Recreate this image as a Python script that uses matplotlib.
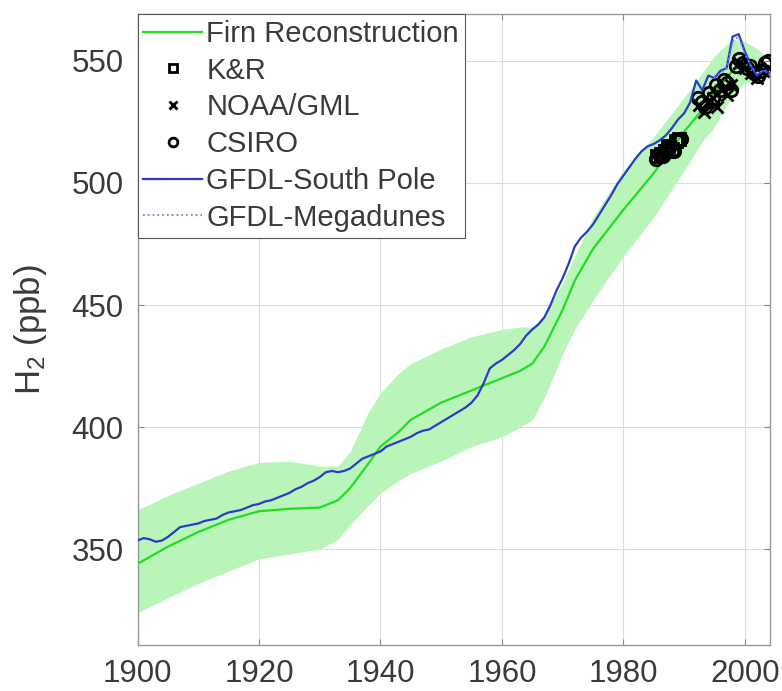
import numpy as np
import matplotlib
matplotlib.use("Agg")
import matplotlib.pyplot as plt

# firn reconstruction (green line) and its uncertainty band
firn_years = [1900, 1905, 1910, 1915, 1920, 1925, 1930, 1933, 1935, 1938, 1940, 1943, 1945,
              1950, 1955, 1960, 1963, 1965, 1967, 1970, 1972, 1975, 1980, 1985, 1990, 1993,
              1995, 1998, 2000, 2002, 2003]
firn_h2 = [344, 351, 357, 362, 365.5, 366.5, 367, 370, 375, 385, 392, 398, 403,
           410, 415, 420, 423, 426, 433, 448, 460, 473, 489, 504, 521, 530,
           537, 546, 549, 547, 548]
firn_hi = [366, 372, 377, 382, 385.5, 386, 384, 384, 390, 406, 414, 422, 426,
           432, 437, 440, 441, 441, 446, 459, 470, 486, 505, 519, 535, 545,
           552, 559, 558, 555, 553]
firn_lo = [324, 330, 336, 341, 346, 348, 350, 354, 360, 368, 373, 378, 381,
           386, 392, 396, 400, 403, 412, 430, 440, 452, 470, 486, 505, 517,
           523, 536, 541, 542, 542]

# GFDL South Pole model (yearly)
sp_years = list(range(1900, 2005))
sp_h2 = [353.5, 354.5, 354, 353, 353.5, 355, 357, 359, 359.5, 360,
         360.5, 361.5, 362, 362.5, 364, 365, 365.5, 366, 367, 368,
         368.5, 369.5, 370, 371, 372, 373, 374.5, 375.5, 377, 378,
         379.5, 381.5, 382, 381.5, 382, 383, 385, 387, 388, 389,
         390, 392, 393, 394, 395, 396, 397.5, 398.5, 399, 400.5,
         402, 403.5, 405, 406.5, 408, 410, 413, 418, 424, 426,
         427.5, 429.5, 431.5, 434, 437.5, 440, 442, 445, 450, 456,
         461, 467, 474, 477.5, 480, 483, 487, 491, 495, 499.5,
         503, 506.5, 510, 513, 515, 516, 517.5, 519.5, 522.5, 526,
         528.5, 533, 542, 538, 544, 543, 546, 547, 560, 561,
         554, 548, 544, 546, 545]

# GFDL Megadunes model
md_years = [1995, 1996, 1997, 1998, 1999, 2000, 2001, 2002, 2003, 2004]
md_h2 = [543, 545, 547, 558, 560, 553, 548, 545, 546, 546]

# observations
kr_years = [1985.6, 1986.2, 1986.8, 1987.4, 1988.0, 1988.6, 1989.2]
kr_h2 = [511, 512, 513, 515, 514, 517, 518]

noaa_years = [1992.5, 1993.3, 1994.0, 1994.8, 1995.5, 1996.3, 1997.0, 1997.8,
              1999.0, 2000.0, 2001.0, 2002.0, 2003.0, 2004.0]
noaa_h2 = [532, 529, 533, 535, 531, 538, 536, 540, 549, 547, 545, 543, 546, 547]

csiro_years = [1985.3, 1985.9, 1986.5, 1987.1, 1987.7, 1988.3, 1988.9, 1989.5,
               1992.3, 1992.9, 1993.5, 1994.1, 1994.7, 1995.3, 1995.9, 1996.5, 1997.1, 1997.7,
               1998.5, 1999.1, 1999.7, 2000.3, 2000.9, 2001.5, 2002.1, 2002.7, 2003.3, 2003.9]
csiro_h2 = [510, 512, 511, 514, 515, 513, 517, 518,
            535, 533, 531, 537, 535, 540, 538, 542, 541, 538,
            548, 551, 549, 547, 548, 545, 544, 546, 549, 550]

plt.rcParams['font.family'] = ['Liberation Sans', 'DejaVu Sans']
plt.rcParams['mathtext.fontset'] = 'custom'
plt.rcParams['mathtext.rm'] = 'Liberation Sans'
plt.rcParams['mathtext.it'] = 'Liberation Sans'

fig = plt.figure(figsize=(7.82, 6.91), dpi=100)
ax = fig.add_axes([0.176, 0.0666, 0.809, 0.913])

green = '#22dd22'
blue = '#2b3cc4'

ax.fill_between(firn_years, firn_lo, firn_hi, color='#b9f5b9', lw=0, zorder=1)
ax.plot(firn_years, firn_h2, color=green, lw=1.6, label='Firn Reconstruction', zorder=3)
mk = dict(ls='none', mfc='none', mec='black', mew=2.0, zorder=4)
ax.plot(kr_years, kr_h2, marker='s', ms=8, label='K&R', **mk)
ax.plot(noaa_years, noaa_h2, marker='x', ms=8, label='NOAA/GML', **mk)
ax.plot(csiro_years, csiro_h2, marker='o', ms=9, label='CSIRO', **mk)
ax.plot(sp_years, sp_h2, color=blue, lw=1.6, label='GFDL-South Pole', zorder=5)
ax.plot(md_years, md_h2, color='#7a7aff', lw=1.3, ls=':', label='GFDL-Megadunes', zorder=5)

ax.set_xlim(1900, 2004.2)
ax.set_ylim(310.7, 569.2)
ax.set_xticks([1900, 1920, 1940, 1960, 1980, 2000])
ax.set_yticks([350, 400, 450, 500, 550])
ax.grid(True, color='#dcdcdc', lw=0.8)
ax.set_axisbelow(True)
ax.tick_params(direction='in', length=4, width=0.8, colors='#888888',
               labelcolor='#3a3a3a', labelsize=22.5, top=True, right=True, pad=10)
for s in ax.spines.values():
    s.set_color('#999999')
    s.set_linewidth(1.0)

ax.set_ylabel('H$_2$ (ppb)', fontsize=25, color='#3a3a3a', labelpad=16)

leg = ax.legend(loc='upper left', fontsize=21, handlelength=2.0, handletextpad=0.15,
                borderaxespad=0, borderpad=0.2, labelspacing=0.3, fancybox=False,
                framealpha=1, edgecolor='#555555', markerscale=0.7)
leg.get_frame().set_linewidth(0.8)
for t in leg.get_texts():
    t.set_color('#3a3a3a')

fig.savefig('out.png', dpi=100)
